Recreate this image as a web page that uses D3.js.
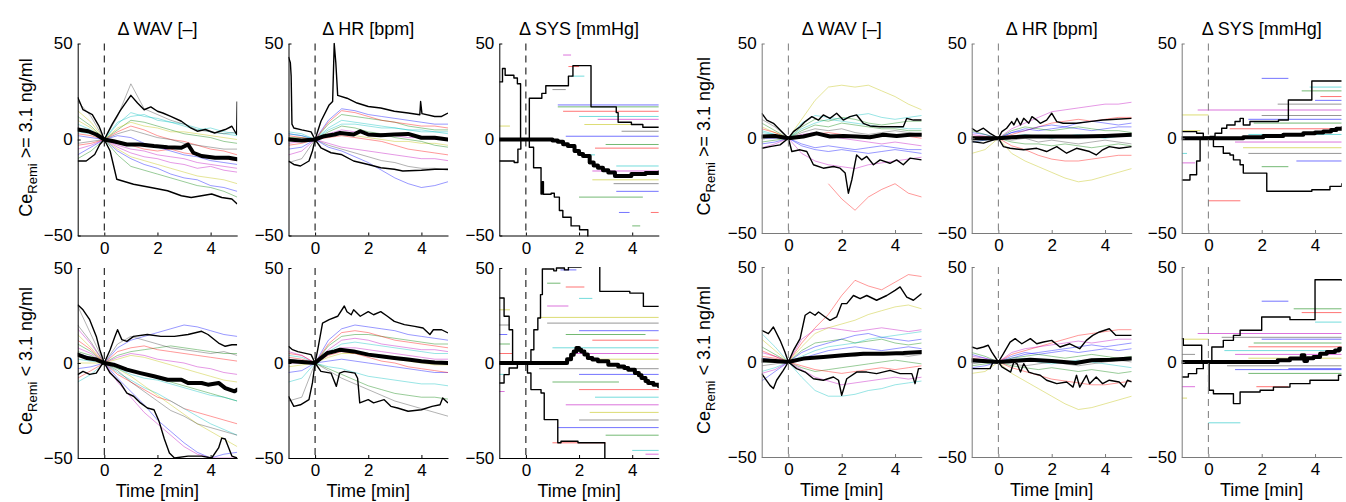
<!DOCTYPE html>
<html>
<head>
<meta charset="utf-8">
<script src="https://cdn.jsdelivr.net/npm/d3@7"></script>
<style>
  body { margin: 0; background: #fff; }
  svg text { font-family: "Liberation Sans", Arial, Helvetica, sans-serif; fill: #000; }
</style>
</head>
<body>
<svg id="chart"></svg>
<script>
// ---------------- data ----------------
const timeGrid = [-1, -0.5, 0, 0.5, 1, 1.5, 2, 2.5, 3, 3.5, 4, 4.5, 5];
const xTicks = [0, 2, 4];
const yTicks = [-50, 0, 50];
const titles = ['\u0394 WAV [\u2013]', '\u0394 HR [bpm]', '\u0394 SYS [mmHg]'];
const rowLabels = [' >= 3.1 ng/ml', ' < 3.1 ng/ml'];

// group A, row "high", WAV
const aWavHiUpper = [[-1,22],[-0.8,15.5],[-0.45,13],[-0.2,7],[0,0],[0.3,8],[0.6,15],[1,23],[1.25,19],[1.5,15.5],[1.75,17],[2,14.7],[2.2,13.8],[2.5,12],[2.9,9.5],[3.25,6],[3.5,4.3],[3.8,5.2],[4.15,3.4],[4.55,5.2],[4.8,6.9],[4.98,2.6],[5,19.8]];
const aWavHiMedian = [[-1,5.2],[-0.6,4.3],[-0.3,2.6],[0,0],[0.35,-0.9],[0.85,-2.6],[1.35,-2.6],[1.87,-3.4],[2.38,-4],[2.9,-4.3],[3.15,-2.6],[3.35,-6.9],[3.66,-8.6],[4.17,-9.5],[4.68,-9.5],[5,-10.3]];
const aWavHiLower = [[-1,-11.2],[-0.68,-11.2],[-0.36,-7.8],[-0.17,-2.6],[0,0],[0.22,-6],[0.47,-20.7],[1.1,-23.3],[1.75,-25],[2.38,-26.7],[2.9,-29.3],[3.27,-30.2],[3.66,-29.3],[4.04,-28.4],[4.42,-30.2],[4.8,-31],[5,-33.6]];
const aWavHiSubjects = [
  [-8,-4,0,-6,-10,-13,-15,-18,-20,-21,-24,-25,-27],
  [12,7,0,5,10,9,7,5,3,2,1,-1,-2],
  [3,2,0,-2,-3,-5,-6,-5,-7,-8,-9,-10,-11],
  [8,5,0,8,14,12,11,9,8,6,4,3,2],
  [-5,-3,0,-4,-7,-9,-10,-12,-13,-15,-14,-16,-17],
  [15,9,0,6,9,7,6,4,4,3,2,1,0],
  [20,12,0,12,29,16,13,10,8,5,4,3,4],
  [2,1,0,2,1,-2,-4,-6,-8,-9,-11,-12,-13],
  [-10,-6,0,-8,-14,-16,-18,-20,-22,-24,-25,-27,-30],
  [-3,-2,0,4,7,5,2,0,-1,-3,-5,-6,-8],
  [4,3,0,9,12,13,10,9,7,5,6,4,3],
  [6,4,0,-3,-5,-6,-8,-9,-10,-12,-13,-14,-15],
  [10,6,0,-5,-9,-11,-13,-15,-17,-19,-20,-21,-23],
  [-2,-1,0,3,5,3,1,0,-2,-3,-4,-5,-5]
];

// group A, row "high", HR
const aHrHiUpper = [[-1,43],[-0.93,40],[-0.9,33],[-0.87,8],[-0.8,6],[-0.5,5],[-0.15,4],[0,0],[0.22,9.5],[0.53,18],[0.66,19.8],[0.72,50],[0.78,40],[0.85,23],[1.2,21.5],[1.58,19],[2,17.2],[2.47,16.4],[2.98,14.7],[3.5,13.8],[3.94,12.9],[3.97,19.8],[4.02,13.5],[4.5,12],[4.76,12],[5,13.8]];
const aHrHiMedian = [[-1,0],[-0.5,-0.5],[0,0],[0.34,1.7],[0.73,2.6],[0.94,3.4],[1.45,2.6],[1.7,4.3],[2,2.6],[2.47,2.2],[2.98,2.6],[3.5,2.9],[4,0.9],[4.5,0.9],[5,0]];
const aHrHiLower = [[-1,-11.2],[-0.8,-13],[-0.55,-13.8],[-0.23,-11.2],[-0.1,-6],[0,0],[0.22,-4.3],[0.6,-6.9],[0.98,-7.8],[1.45,-11.2],[2,-13],[2.47,-14.7],[2.98,-15.5],[3.3,-16.4],[4,-16],[4.5,-15.5],[5,-15.5]];
const aHrHiSubjects = [
  [3,2,0,10,16,15,13,12,11,10,9,8,8],
  [1,1,0,8,13,12,11,10,9,7,6,5,5],
  [2,1,0,9,15,14,12,10,9,8,7,7,6],
  [4,3,0,5,8,8,7,6,6,5,4,4,3],
  [-2,-1,0,3,5,4,3,3,2,1,1,0,0],
  [0,0,0,2,3,2,1,0,-1,-1,-2,-2,-3],
  [-12,-10,0,-3,-5,-7,-9,-11,-12,-14,-15,-15,-16],
  [-5,-4,0,-4,-6,-9,-12,-16,-20,-23,-25,-24,-22],
  [1,0,0,4,7,6,4,3,1,0,-1,-3,-4],
  [-3,-2,0,1,2,1,0,-1,-3,-5,-6,-7,-8],
  [3,2,0,6,10,9,8,7,6,5,5,4,4],
  [-8,-6,0,-2,-4,-5,-6,-7,-8,-9,-10,-10,-11]
];

// group A, row "high", SYS
const aSysHiUpper = [[-1,30],[-0.88,37],[-0.78,33.5],[-0.45,32],[-0.32,29],[-0.2,0],[0.13,21.5],[0.6,24],[0.75,28],[1.6,33],[1.77,38.5],[2.45,17],[3.4,14],[3.47,9],[3.97,7.8],[4.4,6.4],[5,6.4]];
const aSysHiMedian = [[-1,0],[1.0,-0.5],[1.2,-1.2],[1.4,-2.5],[1.58,-3.4],[1.83,-6],[2.0,-7.5],[2.15,-8.6],[2.4,-12],[2.55,-13.5],[2.71,-14.7],[2.9,-16],[3.1,-17.2],[3.35,-19],[3.97,-18],[4.5,-17.5],[5,-17.2]];
const aSysHiLower = [[-1,-11.2],[-0.44,-12],[-0.3,-5],[-0.19,0],[0.13,-4],[0.29,-14.7],[0.57,-28.4],[0.62,-22],[0.66,-28.5],[0.95,-28],[1.07,-30],[1.26,-37],[1.39,-40.5],[1.7,-45],[2.02,-47],[2.33,-55]];
const aSysHiSegments = [
  [1.2,5,18],[1.2,5,17],[1.4,5,14.7],[2.0,5,12],[2.7,5,10.5],[2.2,4.2,7.8],[3.6,5,4.3],[1.5,5,1.7],
  [3.0,5,-2.6],[2.6,5,-4.5],[3.4,5,-13.8],[2.5,5,-16.4],[2.5,5,-21],[3.3,5,-23],[3.4,5,-27],[2.0,4.4,-30],
  [1.6,2.0,38],[1.7,2.2,33],[1.4,1.7,44],[-1,-0.6,7],[1.0,1.5,26],[3.5,3.9,-38],[4.0,4.3,-45],[4.7,5,-38],[2.2,2.6,-8]
];

// group A, row "low", WAV
const aWavLoUpper = [[-1,30.7],[-0.8,28],[-0.55,22.8],[-0.3,14],[-0.17,7],[0,0],[0.22,7],[0.4,14],[0.5,17.5],[0.66,12.3],[0.85,11.4],[1.1,14],[1.62,15],[2.13,14],[2.64,14],[3.15,15],[3.66,16.7],[3.9,15],[4.3,10.5],[4.55,8.8],[4.8,9.6],[5,9.6]];
const aWavLoMedian = [[-1,4.4],[-0.65,2.6],[-0.3,1.8],[0,0],[0.35,-0.9],[0.85,-3.5],[1.36,-5.3],[1.87,-7],[2.38,-8.8],[2.9,-8.8],[3.15,-10.5],[3.66,-10.5],[3.9,-11.4],[4.3,-10.5],[4.55,-13.2],[4.9,-14.9],[5,-14]];
const aWavLoLower = [[-1,-6.1],[-0.8,-4.4],[-0.55,-6],[-0.3,-5.3],[-0.1,-1],[0,0],[0.22,-5.3],[0.6,-10.5],[0.85,-15.8],[1.1,-17.5],[1.36,-21],[1.62,-23.7],[1.87,-24.6],[2.06,-30.7],[2.26,-40],[2.45,-47.4],[2.64,-50],[3.15,-49],[3.66,-49],[4.04,-50],[4.3,-44.7],[4.42,-39.5],[4.55,-40],[4.8,-49],[5,-50]];
const aWavLoSubjects = [
  [5,3,0,8,12,14,16,18,20,19,17,15,14],
  [10,6,0,4,6,7,8,9,8,7,6,5,5],
  [-8,-4,0,-6,-10,-14,-18,-20,-24,-26,-28,-30,-32],
  [2,1,0,-5,-9,-13,-16,-20,-24,-28,-32,-35,-38],
  [18,10,0,3,5,4,2,1,0,-2,-3,-5,-6],
  [15,8,0,-3,-7,-12,-17,-22,-27,-32,-36,-40,-44],
  [30,15,0,10,14,12,10,8,7,6,5,6,4],
  [-3,-2,0,-8,-15,-22,-30,-36,-42,-47,-50,-48,-47],
  [6,4,0,-2,-4,-6,-8,-10,-12,-14,-16,-18,-20],
  [12,7,0,6,8,9,7,6,5,4,3,2,1],
  [-10,-6,0,-3,-6,-8,-9,-11,-13,-15,-17,-18,-20],
  [8,5,0,-10,-18,-26,-32,-38,-44,-48,-50,-50,-50],
  [0,0,0,2,4,3,1,-1,-3,-5,-7,-9,-10],
  [20,11,0,-4,-10,-15,-20,-25,-28,-32,-34,-36,-38]
];

// group A, row "low", HR
const aHrLoUpper = [[-1,8.8],[-0.85,7],[-0.65,6],[-0.15,4.4],[0,0],[0.1,7],[0.28,21],[0.53,22.8],[0.85,24.6],[1.1,30],[1.2,27],[1.36,25.4],[1.45,28],[1.7,24.6],[2,27],[2.2,25.4],[2.47,27],[2.72,24.6],[2.98,21.9],[3.36,20.2],[3.75,19.3],[4.06,18.4],[4.32,15],[4.45,17.5],[4.76,17.5],[5,15.8]];
const aHrLoMedian = [[-1,1],[-0.5,0.5],[0,0],[0.22,2.6],[0.47,5.3],[0.73,6.1],[0.94,7],[1.45,6.1],[2,4.4],[2.47,3.5],[2.98,2.6],[3.5,1.8],[4,0.9],[4.5,0.3],[5,0]];
const aHrLoLower = [[-1,-17.5],[-0.8,-22.8],[-0.55,-22],[-0.23,-19.3],[-0.1,-10.5],[0,0],[0.22,-4.4],[0.6,-5.3],[0.8,-12.3],[0.92,-5.3],[1.1,-4.4],[1.5,-5.3],[1.6,-8],[1.68,-21],[2,-19.3],[2.2,-21],[2.6,-19.3],[2.85,-22.8],[3.1,-23.7],[3.5,-25.4],[4,-24.6],[4.4,-22.8],[4.7,-22],[4.8,-18.4],[5,-21]];
const aHrLoSubjects = [
  [2,1,0,12,18,20,19,18,17,15,14,13,12],
  [1,0,0,9,14,15,15,14,13,12,11,10,10],
  [3,2,0,10,16,17,16,14,12,11,10,9,8],
  [4,3,0,6,10,11,10,9,8,7,6,5,5],
  [0,0,0,5,8,8,7,6,5,4,3,2,2],
  [-2,-1,0,3,5,5,4,3,2,1,0,-1,-1],
  [-20,-18,0,-4,-8,-11,-14,-17,-20,-22,-24,-26,-28],
  [-5,-4,0,1,2,1,0,-1,-2,-3,-4,-5,-5],
  [2,1,0,-3,-6,-9,-12,-14,-16,-17,-18,-18,-19],
  [5,4,0,4,6,5,3,1,0,-2,-3,-4,-5],
  [-10,-8,0,-2,-3,-5,-7,-8,-9,-10,-11,-11,-12],
  [6,4,0,7,12,13,12,10,9,8,7,7,6]
];

// group A, row "low", SYS
const aSysLoUpper = [[-1,34.2],[-0.82,24.6],[-0.63,17.5],[-0.5,0],[0.06,0],[0.19,7],[0.3,17.5],[0.45,23.7],[0.55,36],[0.62,49.5],[1.05,48.5],[1.15,50],[1.45,49],[1.6,50.5],[2.08,56],[2.78,37.7],[3.91,36.8],[4.42,29.8],[5,29.8]];
const aSysLoMedian = [[-1,0],[1.4,0],[1.55,2],[1.7,4.4],[1.8,6],[1.9,7.9],[2.0,7],[2.08,6.1],[2.2,4.5],[2.33,2.6],[2.5,1.8],[2.71,0.9],[3.1,-0.9],[3.47,-1.8],[3.7,-2.6],[3.85,-3.5],[4.1,-5.3],[4.25,-6.5],[4.35,-7.9],[4.5,-9.5],[4.6,-10.5],[4.8,-11.5],[5,-12.3]];
const aSysLoLower = [[-1,-10.5],[-0.82,-6.1],[-0.63,-2.6],[-0.32,0],[0.06,-5.3],[0.19,-14],[0.57,-15.8],[0.69,-29.8],[1.07,-29.8],[1.2,-42],[1.32,-41.2],[1.96,-42],[2.97,-55]];
const aSysLoSegments = [
  [1.3,1.9,49],[0.8,1.3,42],[1.5,2.2,40],[2.0,2.5,34],[0.8,1.6,30],[0.5,5,24],[0.8,5,21],[2.0,5,17],
  [1.5,4.5,15],[2.5,5,12],[1.0,5,8],[1.7,5,5],[2.3,5,2],[0.5,5,-3],[2.0,5,-6],[1.0,3.5,-10],
  [2.0,5,-14],[2.6,5,-18],[1.5,5,-22],[2.4,5,-26],[2.0,5,-30],[1.2,5,-34],[3.0,5,-38],[1.0,3.0,-42],
  [4.0,5,-46],[4.5,5,-48],[-1,-0.6,28],[-1,-0.6,20],[-1,-0.7,15],[-1,-0.6,10],[-1,-0.5,5],[-1,-0.7,-6],[-1,-0.8,-15]
];

// group B, row "high", WAV
const bWavHiUpper = [[-1,13.2],[-0.81,9.6],[-0.56,7.9],[-0.31,4.4],[0,0],[0.19,3.5],[0.44,6.1],[0.63,8.8],[0.88,11.4],[1.13,9.6],[1.31,12.3],[1.56,10.5],[1.81,13.2],[2.06,9.6],[2.31,11.4],[2.56,12.3],[2.81,7.9],[3.06,6.5],[3.44,6.1],[3.81,6.1],[4.31,6.1],[4.44,10.5],[4.69,9.6],[5,9.6]];
const bWavHiMedian = [[-1,0.9],[-0.5,1.2],[0,0],[0.56,0.9],[1.06,2.6],[1.56,0.9],[2.06,1.2],[2.56,0.9],[3.06,0.5],[3.56,1.8],[4.06,1.2],[4.56,1.8],[5,1.8]];
const bWavHiLower = [[-1,-5.3],[-0.69,-4.4],[-0.31,-3.5],[0,0],[0.13,-7],[0.44,-6.1],[0.69,-7],[0.94,-14],[1.31,-15.8],[1.69,-14.9],[1.94,-15.8],[2.13,-18.4],[2.25,-29],[2.38,-21.9],[2.56,-8.8],[2.75,-11.4],[2.94,-9.6],[3.19,-14],[3.44,-11.4],[3.81,-13.2],[4.06,-11.4],[4.31,-14],[4.56,-10.5],[5,-11.4]];
const bWavHiSubjects = [
  [-3,-2,0,-4,-6,-7,-6,-7,-8,-7,-6,-7,-8],
  [8,4,0,4,7,6,8,7,6,5,5,4,4],
  [null,null,null,null,null,-24,-32,-38,-31,-27,-24,-29,-31],
  [4,2,0,5,8,10,9,8,7,6,6,5,5],
  [1,1,0,2,3,1,0,-1,-2,-3,-2,-3,-4],
  [6,3,0,10,20,27,28,27,28,25,22,18,15],
  [10,6,0,3,5,4,5,3,2,3,4,3,2],
  [0,0,0,-3,-5,-4,-5,-6,-5,-4,-5,-6,-6],
  [-2,-1,0,6,10,9,11,10,8,7,8,9,9],
  [5,3,0,1,2,3,2,1,0,1,2,1,0],
  [3,2,0,8,12,11,10,12,13,11,10,11,12],
  [-5,-3,0,-8,-12,-14,-15,-16,-14,-13,-12,-11,-10]
];

// group B, row "high", HR
const bHrHiUpper = [[-1,5.3],[-0.81,3.5],[-0.56,5.3],[-0.31,2.6],[0,0],[0.13,3.5],[0.31,5.3],[0.5,8.8],[0.58,7],[0.7,10.5],[0.83,7],[0.95,10.5],[1.14,7.9],[1.26,11.4],[1.44,9.6],[1.57,7.9],[1.81,9.6],[2,13.2],[2.19,8.8],[2.43,7.9],[2.93,7.9],[3.42,8.8],[3.91,9.6],[4.41,10],[5,10.5]];
const bHrHiMedian = [[-1,0],[0,0],[0.5,0.5],[1,0.9],[2,0.9],[3,0.9],[4,1.2],[5,1.8]];
const bHrHiLower = [[-1,-1.8],[-0.56,-2.6],[0,0],[0.19,-4.4],[0.44,-5.3],[0.95,-6.1],[1.44,-5.3],[1.81,-7],[2.19,-4.4],[2.56,-7.9],[2.93,-5.3],[3.42,-7],[3.67,-8.8],[3.91,-6.1],[4.16,-4.4],[4.53,-5.3],[5,-4.4]];
const bHrHiSubjects = [
  [3,2,0,3,5,4,5,6,5,4,5,6,6],
  [-2,-1,0,-2,-3,-3,-4,-3,-4,-5,-4,-3,-4],
  [0,0,0,2,4,6,8,9,10,9,10,11,11],
  [1,0,0,1,2,1,0,1,2,1,0,1,1],
  [2,1,0,5,8,11,14,15,16,17,18,18,19],
  [-8,-6,0,-8,-12,-15,-18,-21,-23,-22,-20,-18,-16],
  [-1,0,0,-1,0,-2,-1,-2,-3,-2,-1,-2,-3],
  [-2,-1,0,3,4,6,7,6,8,9,8,7,8],
  [4,2,0,4,6,5,4,5,6,5,4,4,3],
  [1,1,0,-4,-6,-9,-11,-12,-12,-11,-10,-9,-9]
];

// group B, row "high", SYS
const bSysHiUpper = [[-1,-22],[-0.69,-19.3],[-0.44,-12],[-0.31,0],[0,0],[0.06,0.9],[0.25,2.6],[0.5,5.3],[0.69,7],[1.0,8.8],[1.19,10.5],[1.31,7],[1.56,8.8],[2.63,9.6],[3.0,20.2],[3.88,30.2],[5,30.2]];
const bSysHiMedian = [[-1,0],[0.5,0],[1.31,0.5],[2.06,1.2],[2.81,1.8],[3.56,2.6],[4.0,3],[4.31,3.5],[4.6,4.3],[4.8,5],[5,5.3]];
const bSysHiLower = [[-1,3.5],[-0.44,2.6],[-0.19,0.5],[0,0],[0.19,-4.4],[0.56,-7.9],[0.81,-8.8],[0.94,-11.4],[1.19,-14],[1.31,-18.4],[2.19,-28],[3.88,-27.2],[4.56,-25.4],[5,-23.7]];
const bSysHiSegments = [
  [2.0,3.0,31.6],[3.5,5,25],[4.2,5,22],[3.8,5,27],[-0.4,5,14.9],[-1,0,12.3],[2.0,5,12],[1.5,5,10],
  [1.7,5,8],[0.8,5,5],[1.5,5,2],[1.0,5,-2],[1.3,5,-5],[1.5,5,-8],[3.3,5,-12],[2.0,3.0,-15],
  [0,1.2,-33],[-1,-0.8,-8],[-1,-0.5,-13],[-1,-0.3,4],[2.6,5,18],[4.0,5,20]
];

// group B, row "low", WAV
const bWavLoUpper = [[-1,16.7],[-0.75,14.9],[-0.56,18.4],[-0.31,11.4],[-0.13,5.3],[0,0],[0.19,6.1],[0.44,12.3],[0.63,24.6],[0.81,26.3],[1,24.6],[1.13,26.3],[1.38,23.7],[1.56,21.9],[1.81,23.7],[2,30.7],[2.19,30.7],[2.44,35],[2.69,33.3],[2.94,35],[3.31,32.5],[3.69,35],[4,37.7],[4.19,39.5],[4.44,34.2],[4.69,32.5],[5,36]];
const bWavLoMedian = [[-1,0.9],[-0.5,0.5],[0,0],[0.56,1.8],[1.31,2.6],[2.06,3.5],[2.81,4.4],[3.56,4.4],[4.31,4.7],[5,5.3]];
const bWavLoLower = [[-1,-6.1],[-0.69,-12.3],[-0.56,-14],[-0.44,-9.6],[-0.19,-4.4],[0,0],[0.31,-3.5],[0.63,-5.3],[0.94,-8.8],[1.31,-9.6],[1.69,-7.9],[1.88,-9.6],[2,-17.5],[2.19,-8.8],[2.56,-5.3],[2.94,-5.3],[3.31,-6.1],[3.81,-4.4],[4.19,-6.1],[4.63,-6.1],[4.75,-11.4],[4.88,-3.5],[5,-3.5]];
const bWavLoSubjects = [
  [-10,-5,0,2,4,6,7,8,7,6,7,8,7],
  [8,4,0,6,10,11,12,10,11,12,10,9,10],
  [3,2,0,10,18,25,35,43,40,38,42,46,45],
  [-5,-3,0,-8,-15,-18,-18,-17,-15,-14,-12,-11,-10],
  [5,3,0,12,17,18,17,16,17,18,17,16,17],
  [12,6,0,8,15,18,20,22,25,27,29,30,28],
  [-2,-1,0,1,2,3,4,3,4,5,4,3,4],
  [2,1,0,5,8,10,12,14,15,13,12,11,12],
  [0,0,0,-3,-5,-4,-3,-2,-1,0,1,0,-1],
  [6,3,0,-2,-4,-5,-6,-5,-4,-3,-4,-3,-2],
  [15,8,0,3,6,8,9,10,12,13,14,15,16],
  [-6,-4,0,-4,-8,-10,-12,-11,-10,-9,-8,-9,-8]
];

// group B, row "low", HR
const bHrLoUpper = [[-1,7.9],[-0.81,7],[-0.56,7.9],[-0.38,8.8],[-0.25,5.3],[0,0],[0.19,4.4],[0.44,10.5],[0.63,12.3],[0.88,9.6],[1.2,12.3],[1.44,9.6],[1.69,10.5],[2,11.4],[2.31,7.9],[2.68,9.6],[3.05,7],[3.3,11.4],[3.54,14],[3.79,15.8],[4.16,17.5],[4.41,14],[5,14]];
const bHrLoMedian = [[-1,0.9],[0,0],[0.5,0.5],[1.2,1.2],[2,0.5],[2.9,-0.5],[3.5,0.9],[4.2,1.2],[5,1.8]];
const bHrLoLower = [[-1,-3.5],[-0.31,-3.5],[-0.2,0],[0,0],[0.13,-2.6],[0.46,-5.3],[0.58,0],[0.7,-0.9],[0.83,-5.3],[0.95,-0.9],[1.14,-5.3],[1.32,-6.1],[1.57,-7],[1.81,-9.6],[2.19,-11.4],[2.56,-10.5],[2.8,-13.2],[2.93,-7],[3.05,-13.2],[3.3,-7],[3.42,-11.4],[3.67,-7.9],[3.91,-11.4],[4.16,-9.6],[4.53,-10.5],[4.72,-13.2],[4.84,-9.6],[5,-10.5]];
const bHrLoSubjects = [
  [4,2,0,3,5,4,5,6,5,6,7,6,7],
  [-2,-1,0,-2,-3,-4,-3,-4,-5,-4,-5,-6,-5],
  [2,1,0,4,6,8,10,12,14,15,16,17,17],
  [0,0,0,1,2,0,-1,0,1,0,-1,-2,-3],
  [3,2,0,5,7,8,9,10,11,10,11,12,12],
  [-6,-5,0,-6,-10,-14,-18,-22,-25,-24,-22,-20,-18],
  [-1,0,0,-1,-2,-1,0,-1,-2,-1,0,1,0],
  [-3,-2,0,2,4,5,6,7,8,9,8,9,10],
  [5,3,0,2,3,4,3,2,3,4,3,2,3],
  [1,1,0,-3,-5,-7,-9,-10,-11,-12,-12,-11,-10]
];

// group B, row "low", SYS
const bSysLoUpper = [[-1,12.3],[-0.94,8.8],[-0.25,0],[0,0],[0.13,7.9],[0.56,11.4],[0.94,14],[1.19,16.7],[2,23.7],[3.06,22.3],[4,43.3],[5,42.6]];
const bSysLoMedian = [[-1,0],[2.6,0.9],[3.06,1.8],[3.5,3.5],[3.6,0.5],[3.7,2],[3.94,2.6],[4.19,4.4],[4.44,5.3],[4.75,6.1],[4.9,7],[5,7]];
const bSysLoLower = [[-1,-7.9],[-0.75,-6.1],[-0.44,-3.5],[-0.19,0],[0.03,-14.9],[0.19,-16.7],[0.94,-21.9],[1.19,-15.8],[1.94,-14.9],[2.44,-13.2],[3.06,-11.4],[3.81,-9.6],[4.88,-7],[5,-7]];
const bSysLoSegments = [
  [2.0,3.0,32],[3.2,5,28],[3.5,5,26],[4.0,5,21],[-0.4,5,15],[-1,0,12],[0.5,5,13],[2.0,5,12],
  [1.7,5,10],[1.5,5,8],[0.6,5,6],[1.0,5,4],[1.5,5,2],[0.7,5,-2],[1.0,5,-4],[1.5,5,-6],
  [1.8,3.0,-13],[0,1.2,-32],[-1,-0.5,-13],[-1,-0.8,-19],[-1,-0.5,4],[3.0,5,-3.5]
];

// ---------------- layout ----------------
const width = 1346, height = 502;
const palette = ['#0000ff', '#008000', '#ff0000', '#00bfbf', '#bf00bf', '#bfbf00', '#404040'];

const groups = {
  A: { x0: 77.7, dx: 210.8, w: 159.5, rows: [[43.5, 235.5], [268, 458]], axis: '#000', dash: '#000', labelX: 32 },
  B: { x0: 761.7, dx: 210, w: 160, rows: [[43.5, 233], [267, 457]], axis: '#7a7a7a', dash: '#7a7a7a', labelX: 710 }
};

const panels = [
  { g: 'A', row: 0, col: 0, upper: aWavHiUpper, median: aWavHiMedian, lower: aWavHiLower, subjects: aWavHiSubjects },
  { g: 'A', row: 0, col: 1, upper: aHrHiUpper, median: aHrHiMedian, lower: aHrHiLower, subjects: aHrHiSubjects },
  { g: 'A', row: 0, col: 2, upper: aSysHiUpper, median: aSysHiMedian, lower: aSysHiLower, segments: aSysHiSegments },
  { g: 'A', row: 1, col: 0, upper: aWavLoUpper, median: aWavLoMedian, lower: aWavLoLower, subjects: aWavLoSubjects },
  { g: 'A', row: 1, col: 1, upper: aHrLoUpper, median: aHrLoMedian, lower: aHrLoLower, subjects: aHrLoSubjects },
  { g: 'A', row: 1, col: 2, upper: aSysLoUpper, median: aSysLoMedian, lower: aSysLoLower, segments: aSysLoSegments },
  { g: 'B', row: 0, col: 0, upper: bWavHiUpper, median: bWavHiMedian, lower: bWavHiLower, subjects: bWavHiSubjects },
  { g: 'B', row: 0, col: 1, upper: bHrHiUpper, median: bHrHiMedian, lower: bHrHiLower, subjects: bHrHiSubjects },
  { g: 'B', row: 0, col: 2, upper: bSysHiUpper, median: bSysHiMedian, lower: bSysHiLower, segments: bSysHiSegments },
  { g: 'B', row: 1, col: 0, upper: bWavLoUpper, median: bWavLoMedian, lower: bWavLoLower, subjects: bWavLoSubjects },
  { g: 'B', row: 1, col: 1, upper: bHrLoUpper, median: bHrLoMedian, lower: bHrLoLower, subjects: bHrLoSubjects },
  { g: 'B', row: 1, col: 2, upper: bSysLoUpper, median: bSysLoMedian, lower: bSysLoLower, segments: bSysLoSegments }
];

const svg = d3.select('#chart').attr('width', width).attr('height', height);

panels.forEach((p, i) => {
  const grp = groups[p.g];
  const left = grp.x0 + p.col * grp.dx;
  const [top, bottom] = grp.rows[p.row];

  const x = d3.scaleLinear().domain([-1, 5]).range([left, left + grp.w]);
  const y = d3.scaleLinear().domain([-50, 50]).range([bottom, top]);

  const clipId = 'clip' + i;
  svg.append('clipPath').attr('id', clipId)
    .append('rect')
      .attr('x', left).attr('y', top - 1)
      .attr('width', grp.w).attr('height', bottom - top + 2);

  const plot = svg.append('g').attr('clip-path', `url(#${clipId})`);

  // individual subjects (thin coloured)
  if (p.subjects) {
    const subjLine = d3.line()
        .defined(v => v !== null)
        .x((v, k) => x(timeGrid[k]))
        .y(v => y(v));
    plot.selectAll('.subj')
        .data(p.subjects)
      .join('path')
        .attr('class', 'subj')
        .attr('d', subjLine)
        .attr('fill', 'none')
        .attr('stroke', (d, k) => palette[k % palette.length])
        .attr('stroke-opacity', 0.45)
        .attr('stroke-width', 0.9);
  }
  if (p.segments) {
    plot.selectAll('.seg')
        .data(p.segments)
      .join('line')
        .attr('class', 'seg')
        .attr('x1', d => x(d[0]))
        .attr('x2', d => x(d[1]))
        .attr('y1', d => y(d[2]))
        .attr('y2', d => y(d[2]))
        .attr('stroke', (d, k) => palette[k % palette.length])
        .attr('stroke-opacity', 0.55)
        .attr('stroke-width', 1);
  }

  // dashed line at t = 0
  svg.append('line')
      .attr('x1', x(0)).attr('x2', x(0))
      .attr('y1', top).attr('y2', bottom)
      .attr('stroke', grp.dash)
      .attr('stroke-width', 1)
      .attr('stroke-dasharray', '7,5');

  // percentile and median lines
  const curve = p.segments ? d3.curveStepAfter : d3.curveLinear;
  const blackLine = d3.line()
      .x(d => x(d[0]))
      .y(d => y(d[1]))
      .curve(curve);

  [p.upper, p.lower].forEach(ser => {
    plot.append('path')
        .attr('d', blackLine(ser))
        .attr('fill', 'none')
        .attr('stroke', '#000')
        .attr('stroke-width', 1.4)
        .attr('stroke-linejoin', 'round');
  });
  plot.append('path')
      .attr('d', blackLine(p.median))
      .attr('fill', 'none')
      .attr('stroke', '#000')
      .attr('stroke-width', 4)
      .attr('stroke-linejoin', 'round')
      .attr('stroke-linecap', 'round');

  // axes
  const yAxis = d3.axisLeft(y).tickValues(yTicks).tickFormat(d3.format('d'))
      .tickSize(-3).tickSizeOuter(0).tickPadding(5);
  const xAxis = d3.axisBottom(x).tickValues(xTicks).tickFormat(d3.format('d'))
      .tickSize(-3).tickSizeOuter(0).tickPadding(6);

  const yG = svg.append('g').attr('transform', `translate(${left},0)`).call(yAxis);
  const xG = svg.append('g').attr('transform', `translate(0,${bottom})`).call(xAxis);
  [yG, xG].forEach(a => {
    a.select('.domain').attr('stroke', grp.axis);
    a.selectAll('.tick line').attr('stroke', grp.axis);
    a.selectAll('.tick text').attr('font-size', 17).attr('fill', '#000')
      .attr('font-family', '"Liberation Sans", Arial, sans-serif');
  });

  // titles on the top row, x label on the bottom row
  if (p.row === 0) {
    svg.append('text')
        .attr('x', left + grp.w / 2)
        .attr('y', 35)
        .attr('text-anchor', 'middle')
        .attr('font-size', 18)
        .text(titles[p.col]);
  } else {
    svg.append('text')
        .attr('x', left + grp.w / 2)
        .attr('y', bottom + 39)
        .attr('text-anchor', 'middle')
        .attr('font-size', 18)
        .text('Time [min]');
  }

  // y label on the first column
  if (p.col === 0) {
    const t = svg.append('text')
        .attr('transform', `translate(${grp.labelX},${(top + bottom) / 2 - 2}) rotate(-90)`)
        .attr('text-anchor', 'middle')
        .attr('font-size', 18);
    t.append('tspan').text('Ce');
    t.append('tspan').attr('dy', 5).attr('font-size', 13).text('Remi');
    t.append('tspan').attr('dy', -5).text(rowLabels[p.row]);
  }
});
</script>
</body>
</html>
